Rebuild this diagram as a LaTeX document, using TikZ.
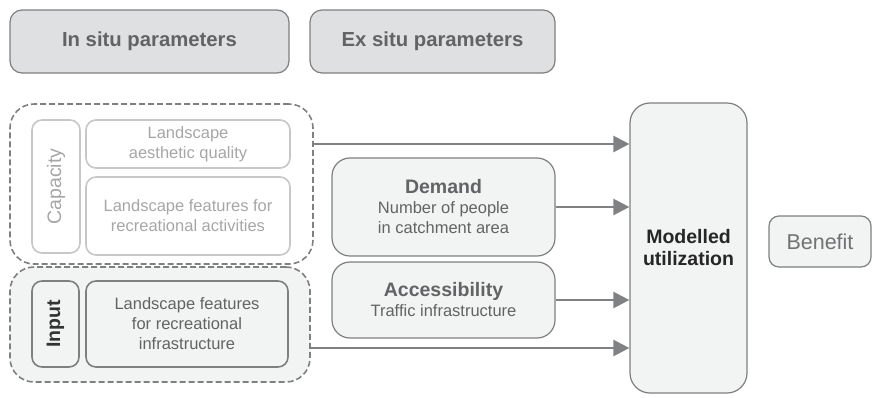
\documentclass[tikz,border=0pt]{standalone}
\usepackage{fontspec}
\setmainfont{Liberation Sans}
\usepackage{tikz}
\usetikzlibrary{positioning, arrows.meta}
\definecolor{headfill}{HTML}{DFE0E1}
\definecolor{boxfill}{HTML}{F2F3F3}
\definecolor{boxline}{HTML}{7E7F80}
\definecolor{dashline}{HTML}{808080}
\definecolor{paleline}{HTML}{C6C7C8}
\definecolor{paletext}{HTML}{A5A6A7}
\definecolor{darktext}{HTML}{626364}
\definecolor{arrowgray}{HTML}{808183}
\newcommand{\txfont}{\fontsize{16.5}{20}\selectfont}
\newcommand{\hdfont}{\fontsize{19.5}{22}\selectfont\bfseries}
\tikzset{
  header/.style={draw=boxline, fill=headfill, rounded corners=12pt,
    line width=1.2pt, text=darktext, font=\fontsize{20.3}{22}\selectfont\bfseries,
    inner sep=0pt},
  group/.style={draw=dashline, dash pattern=on 6pt off 3pt,
    line width=1.6pt, rounded corners=24pt, inner sep=0pt},
  pale/.style={draw=paleline, line width=1.6pt, rounded corners=10pt,
    text=paletext, font=\txfont, align=center, inner sep=0pt},
  solid box/.style={draw=boxline, line width=1.6pt, rounded corners=10pt,
    text=darktext, font=\txfont, align=center, inner sep=0pt},
  ex box/.style={draw=boxline, fill=boxfill, line width=1.2pt,
    rounded corners=18pt, text=darktext, font=\txfont, align=center,
    inner sep=0pt},
  flow/.style={draw=arrowgray, line width=2.4pt,
    -{Triangle[length=16pt, width=16pt]}},
}

\begin{document}
\begin{tikzpicture}[x=1pt, y=-1pt]
\useasboundingbox (0,0) rectangle (872,397);

% parameter headers
\node[header, minimum width=279pt, minimum height=63pt] (insitu) at (149.5,41.5) {In situ parameters};
\node[header, minimum width=245pt, minimum height=63pt] (exsitu) at (432.5,41.5) {Ex situ parameters};

% in situ: capacity
\node[group, minimum width=303pt, minimum height=160pt] (capgroup) at (161.5,184) {};
\node[pale, minimum width=48pt, minimum height=133pt] (capacity) at (56,186.5)
  {\rotatebox{90}{\fontsize{19.5}{22}\selectfont Capacity}};
\node[pale, minimum width=204pt, minimum height=48pt] (aesth) at (188,144)
  {Landscape\\aesthetic quality};
\node[pale, minimum width=204pt, minimum height=78pt] (featact) at (188,216)
  {Landscape features for\\recreational activities};

% in situ: input
\node[group, fill=boxfill, minimum width=300pt, minimum height=115pt] (inputgroup) at (160,324.5) {};
\node[solid box, minimum width=47pt, minimum height=86pt] (input) at (55.5,324)
  {\rotatebox{90}{\hdfont\color{black!80} Input}};
\node[solid box, minimum width=202pt, minimum height=86pt] (featinf) at (187,324)
  {Landscape features\\for recreational\\infrastructure};

% ex situ
\node[ex box, minimum width=223pt, minimum height=98pt] (demand) at (443.5,207)
  {{\hdfont Demand}\\Number of people\\in catchment area};
\node[ex box, minimum width=223pt, minimum height=76pt] (access) at (443.5,300)
  {{\hdfont Accessibility}\\Traffic infrastructure};

% model and benefit
\node[ex box, rounded corners=20pt, minimum width=117pt, minimum height=290pt,
  font=\hdfont, text=black!85] (model) at (688.5,248) {Modelled\\utilization};
\node[ex box, rounded corners=10pt, minimum width=102pt, minimum height=51pt,
  font=\fontsize{21.5}{24}\selectfont, text=darktext!90] (benefit) at (820,241.5) {Benefit};

\coordinate (inlow) at (310,348);

\draw[flow] (capgroup.east |- aesth) -- (model.west |- aesth);
\draw[flow] (demand) -- (model.west |- demand);
\draw[flow] (access) -- (model.west |- access);
\draw[flow] (inlow) -- (model.west |- inlow);

\end{tikzpicture}
\end{document}
